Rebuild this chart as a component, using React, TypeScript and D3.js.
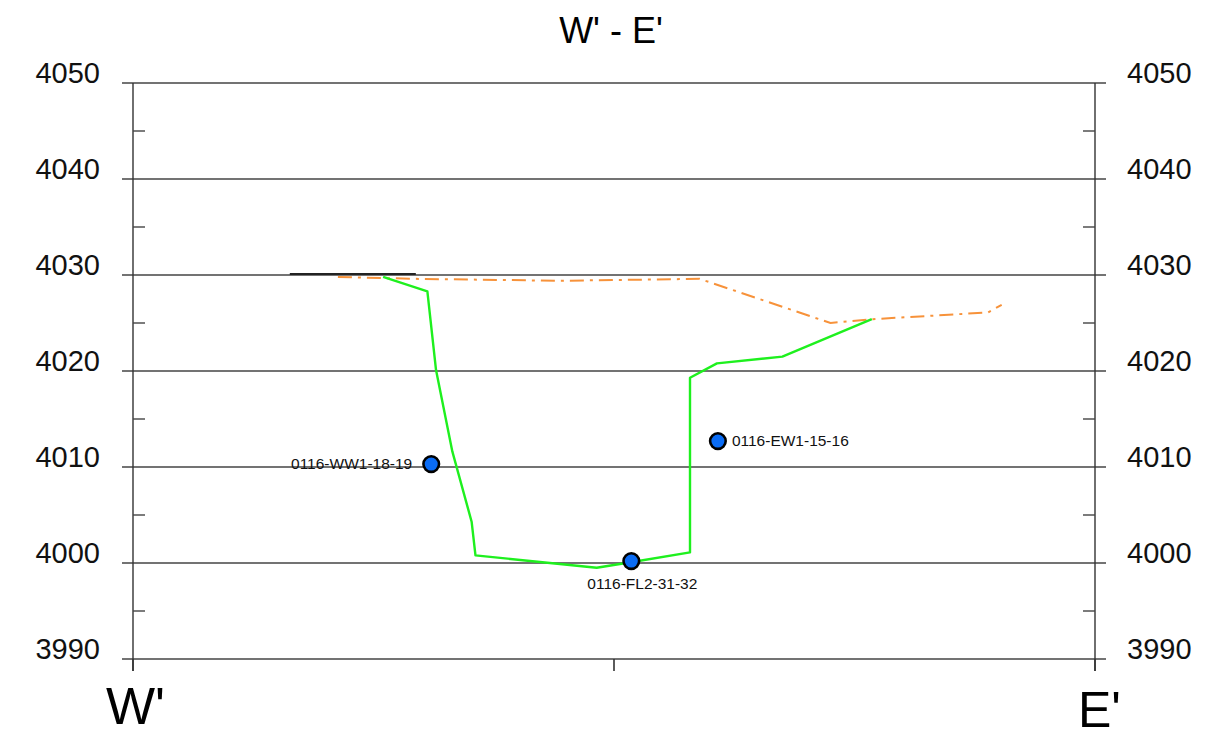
import React, { useEffect, useRef } from "react";
import * as d3 from "d3";

// elevation ticks and section endpoints
const yTicks = [3990, 4000, 4010, 4020, 4030, 4040, 4050];
const yMinorTicks = [3995, 4005, 4015, 4025, 4035, 4045];
const xTicks = [0, 50, 100];

// ground surface (short black segment)
const surfaceX = [16.3, 29.4];
const surfaceY = [4030.1, 4030.1];

// pre-excavation topo (orange dash-dot)
const topoX = [21.3, 29.3, 44.4, 58.9, 72.5, 76.9, 88.9, 90.3];
const topoY = [4029.8, 4029.6, 4029.4, 4029.6, 4025.0, 4025.4, 4026.1, 4026.9];

// excavation profile (green)
const excX = [26.0, 30.6, 31.5, 33.2, 35.2, 35.6, 48.2, 51.9, 57.9, 57.9, 60.7, 67.5, 76.8];
const excY = [4029.8, 4028.3, 4020.1, 4011.6, 4004.3, 4000.8, 3999.5, 4000.1, 4001.1, 4019.3, 4020.8, 4021.5, 4025.4];

// confirmation samples
const sampleNames = ["0116-WW1-18-19", "0116-FL2-31-32", "0116-EW1-15-16"];
const sampleX = [31.0, 51.8, 60.8];
const sampleY = [4010.3, 4000.2, 4012.7];

const W = 1208;
const H = 740;
const FONT = "'Liberation Sans', Arial, sans-serif";

export default function App() {
  const ref = useRef<SVGSVGElement | null>(null);

  useEffect(() => {
    const svg = d3.select(ref.current);
    svg.selectAll("*").remove();

    const x = d3.scaleLinear().domain([0, 100]).range([133, 1095]);
    const y = d3.scaleLinear().domain([3990, 4050]).range([659, 83]);

    const g = svg.append("g");

    // horizontal grid lines (extend past both axes)
    g.selectAll("line.grid")
      .data(yTicks)
      .enter()
      .append("line")
      .attr("x1", x(0) - 11)
      .attr("x2", x(100) + 11)
      .attr("y1", (d) => y(d))
      .attr("y2", (d) => y(d))
      .attr("stroke", "#444")
      .attr("stroke-width", 1.4);

    // vertical axes
    [0, 100].forEach((v) => {
      g.append("line")
        .attr("x1", x(v))
        .attr("x2", x(v))
        .attr("y1", y(4050))
        .attr("y2", y(3990) + 12)
        .attr("stroke", "#333")
        .attr("stroke-width", 1.4);
    });

    // bottom tick marks
    g.selectAll("line.xt")
      .data(xTicks)
      .enter()
      .append("line")
      .attr("x1", (d) => x(d))
      .attr("x2", (d) => x(d))
      .attr("y1", y(3990))
      .attr("y2", y(3990) + 12)
      .attr("stroke", "#333")
      .attr("stroke-width", 1.6);

    // minor ticks, inward on both sides
    g.selectAll("line.ml")
      .data(yMinorTicks)
      .enter()
      .append("line")
      .attr("x1", x(0))
      .attr("x2", x(0) + 12)
      .attr("y1", (d) => y(d))
      .attr("y2", (d) => y(d))
      .attr("stroke", "#444")
      .attr("stroke-width", 1.4);
    g.selectAll("line.mr")
      .data(yMinorTicks)
      .enter()
      .append("line")
      .attr("x1", x(100) - 12)
      .attr("x2", x(100))
      .attr("y1", (d) => y(d))
      .attr("y2", (d) => y(d))
      .attr("stroke", "#444")
      .attr("stroke-width", 1.4);

    // tick labels
    g.selectAll("text.yl")
      .data(yTicks)
      .enter()
      .append("text")
      .attr("x", 100)
      .attr("y", (d) => y(d))
      .attr("text-anchor", "end")
      .attr("font-family", FONT)
      .attr("font-size", 29)
      .attr("fill", "#111")
      .text((d) => d);
    g.selectAll("text.yr")
      .data(yTicks)
      .enter()
      .append("text")
      .attr("x", 1127)
      .attr("y", (d) => y(d))
      .attr("font-family", FONT)
      .attr("font-size", 29)
      .attr("fill", "#111")
      .text((d) => d);

    // title and section ends
    svg.append("text")
      .attr("x", 611)
      .attr("y", 43)
      .attr("text-anchor", "middle")
      .attr("font-family", FONT)
      .attr("font-size", 36)
      .text("W' - E'");
    svg.append("text")
      .attr("x", x(0) - 27)
      .attr("y", 724)
      .attr("font-family", FONT)
      .attr("font-size", 52)
      .text("W'");
    svg.append("text")
      .attr("x", x(100) - 17)
      .attr("y", 727)
      .attr("font-family", FONT)
      .attr("font-size", 50)
      .text("E'");

    const line = d3
      .line<number[]>()
      .x((d) => x(d[0]))
      .y((d) => y(d[1]));

    const toPts = (xs: number[], ys: number[]) => xs.map((v, i) => [v, ys[i]]);

    g.append("path")
      .attr("d", line(toPts(surfaceX, surfaceY)))
      .attr("fill", "none")
      .attr("stroke", "#222")
      .attr("stroke-width", 2);

    g.append("path")
      .attr("d", line(toPts(topoX, topoY)))
      .attr("fill", "none")
      .attr("stroke", "#f7923a")
      .attr("stroke-width", 2)
      .attr("stroke-dasharray", "14 6 3 6");

    g.append("path")
      .attr("d", line(toPts(excX, excY)))
      .attr("fill", "none")
      .attr("stroke", "#1ef01e")
      .attr("stroke-width", 2.4)
      .attr("stroke-linejoin", "round");

    // sample points
    const pts = toPts(sampleX, sampleY);
    g.selectAll("circle.s")
      .data(pts)
      .enter()
      .append("circle")
      .attr("cx", (d) => x(d[0]))
      .attr("cy", (d) => y(d[1]))
      .attr("r", 7.8)
      .attr("fill", "#0a6cf5")
      .attr("stroke", "#000")
      .attr("stroke-width", 2.6);

    const labelPos = [
      { dx: -19, dy: 5, anchor: "end" },
      { dx: 11, dy: 28, anchor: "middle" },
      { dx: 14, dy: 5, anchor: "start" },
    ];
    g.selectAll("text.sl")
      .data(pts)
      .enter()
      .append("text")
      .attr("x", (d, i) => x(d[0]) + labelPos[i].dx)
      .attr("y", (d, i) => y(d[1]) + labelPos[i].dy)
      .attr("text-anchor", (d, i) => labelPos[i].anchor)
      .attr("font-family", FONT)
      .attr("font-size", 15.5)
      .attr("fill", "#111")
      .text((d, i) => sampleNames[i]);
  }, []);

  return (
    <svg
      ref={ref}
      width={W}
      height={H}
      style={{ position: "absolute", left: 0, top: 0, background: "#fff" }}
    />
  );
}
